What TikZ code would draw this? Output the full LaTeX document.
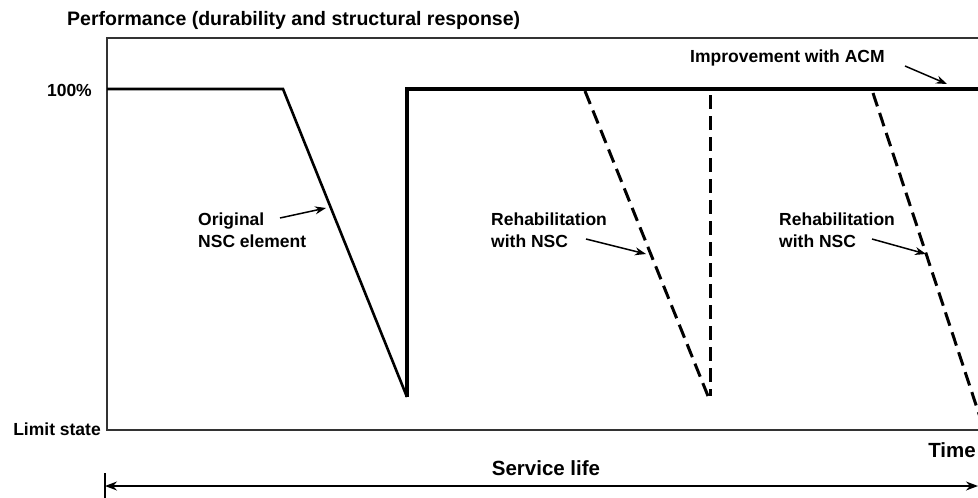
\documentclass[tikz,border=0pt]{standalone}
\usepackage{fontspec}
\setmainfont{Liberation Sans}
\usetikzlibrary{arrows.meta}
\begin{document}
\begin{tikzpicture}[x=1pt,y=-1pt,
  lbl/.style={font=\fontsize{17.5}{22}\selectfont\bfseries, inner sep=0pt},
  biglbl/.style={lbl, font=\fontsize{20.5}{24}\selectfont\bfseries},
  ltxt/.style={lbl, align=left, anchor=north west},
  frame/.style={line width=1.4pt, draw=black!80},
  curve/.style={line width=2.6pt, line join=miter},
  upgrade/.style={line width=4pt},
  rehab/.style={line width=3pt, dash pattern=on 14pt off 7pt},
  pointer/.style={line width=1.5pt, -{Stealth[length=11pt,width=8pt]}},
  span/.style={line width=1.5pt, {Stealth[length=12pt,width=9pt]}-{Stealth[length=12pt,width=9pt]}}]
  \clip (0,0) rectangle (978,498);
  \useasboundingbox (0,0) rectangle (978,498);

  % axis frame and titles
  \draw[frame] (107,38) rectangle (1010,430);
  \node[lbl, font=\fontsize{19.5}{22}\selectfont\bfseries, anchor=west] (ytitle) at (67,20) {Performance (durability and structural response)};
  \node[lbl, anchor=east] (full) at (92,90) {100\%};
  \node[lbl, anchor=east] (limit) at (101,429) {Limit state};
  \node[biglbl, anchor=east] (time) at (976,450) {Time};

  % original element losing performance, then restored with ACM
  \coordinate (o0) at (107,89);
  \coordinate (o1) at (283,89);
  \coordinate (o2) at (407,397);
  \coordinate (a0) at (407,89);
  \coordinate (a1) at (985,89);
  \draw[curve] (o0) -- (o1) -- (o2);
  \draw[upgrade] (o2) -- (a0) -- (a1);

  % repeated rehabilitation with NSC
  \coordinate (r0) at (585,91);
  \coordinate (r1) at (708,396);
  \coordinate (v0) at (710,95);
  \coordinate (v1) at (710,396);
  \coordinate (s0) at (873,93);
  \coordinate (s1) at (981,420);
  \draw[rehab] (r0) -- (r1);
  \draw[rehab] (v0) -- (v1);
  \draw[rehab] (s0) -- (s1);

  % labels with pointers
  \node[lbl, anchor=west] (acm) at (690,58) {Improvement with ACM};
  \coordinate (acmtail) at (905,66);
  \coordinate (acmtip) at (947,84);
  \draw[pointer] (acmtail) -- (acmtip);

  \node[ltxt] (orig) at (198,213) {Original\\NSC element};
  \coordinate (origtail) at (280,218);
  \coordinate (origtip) at (326,208);
  \draw[pointer] (origtail) -- (origtip);

  \node[ltxt] (reh1) at (491,213) {Rehabilitation\\with NSC};
  \coordinate (reh1tail) at (586,239);
  \coordinate (reh1tip) at (646,254);
  \draw[pointer] (reh1tail) -- (reh1tip);

  \node[ltxt] (reh2) at (779,213) {Rehabilitation\\with NSC};
  \coordinate (reh2tail) at (872,239);
  \coordinate (reh2tip) at (926,254);
  \draw[pointer] (reh2tail) -- (reh2tip);

  % service life span
  \node[biglbl] (life) at (546,468) {Service life};
  \coordinate (l0) at (105,486);
  \coordinate (l1) at (978,486);
  \coordinate (bar0) at (105,473);
  \coordinate (bar1) at (105,498);
  \draw[line width=1.4pt] (bar0) -- (bar1);
  \draw[span] (l0) -- (l1);
\end{tikzpicture}
\end{document}
